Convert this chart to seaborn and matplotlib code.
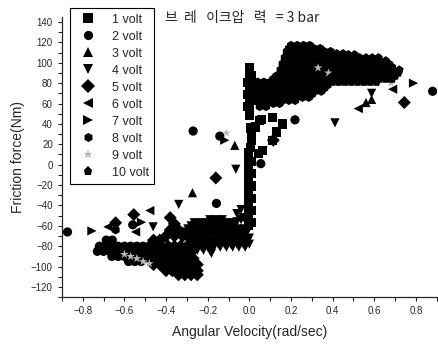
import pandas as pd
import matplotlib.pyplot as plt
import seaborn as sns

sns.set_style("ticks")
plt.rcParams['font.family'] = ['Liberation Sans', 'DejaVu Sans']

labels = ["1 volt", "2 volt", "3 volt", "4 volt", "5 volt",
          "6 volt", "7 volt", "8 volt", "9 volt", "10 volt"]
markers = ["s", "o", "^", "v", "D", "<", ">", "h", "*", "p"]
colors = ["black"] * 8 + ["#b8b8b8", "black"]

# (angular velocity [rad/s], friction force [Nm])
v1 = [(-0.005, -60), (-0.005, -54), (-0.005, -48), (-0.005, -42), (-0.005, -36), (-0.005, -30),
      (-0.005, -24), (-0.005, -18), (-0.005, -12), (-0.005, -6), (-0.005, 0), (-0.005, 6),
      (-0.005, 12), (0.008, -57), (0.008, -45), (0.008, -33), (0.008, -21), (0.008, -9),
      (0.008, 3), (0.006, 17), (0.01, 24), (0.012, 31), (0.007, 36), (0.03, 37), (0.05, 43),
      (0.06, 44), (0.11, 46), (0.16, 40), (0.13, 32), (0.11, 24), (0.045, 11), (0.063, 14),
      (0.0, 48), (0.0, 54), (0.0, 60), (0.0, 66), (0.0, 72), (0.0, 78), (0.0, 84), (0.0, 90),
      (0.0, 95), (-0.008, 57), (-0.008, 69), (-0.008, 81), (0.008, 63), (0.008, 75), (0.008, 87)]
v2 = [(-0.873, -66), (-0.687, -74), (-0.658, -74), (-0.56, -59), (-0.158, -38), (-0.27, 33),
      (-0.142, 28), (0.055, 1), (0.219, 44), (0.88, 72),
      (-0.72, -80), (-0.69, -80), (-0.66, -80), (-0.63, -80), (-0.60, -80), (-0.57, -80),
      (-0.54, -80), (-0.51, -80), (-0.73, -85), (-0.70, -85), (-0.67, -85), (-0.64, -85),
      (-0.61, -85), (-0.58, -85), (-0.55, -85), (-0.52, -85), (-0.66, -90), (-0.63, -90),
      (-0.60, -90), (-0.57, -90), (-0.54, -90), (-0.51, -90), (-0.58, -95), (-0.55, -95),
      (-0.52, -95)]
v3 = [(-0.07, 19), (-0.273, -27.5), (0.587, 64), (0.56, 61)]
v4 = [(-0.065, -4.5), (-0.339, -39), (-0.462, -61), (0.411, 41), (0.587, 70), (-0.182, -87),
      (-0.19, -54), (-0.16, -54), (-0.13, -54), (-0.04, -54),
      (-0.265, -57), (-0.235, -57), (-0.205, -57), (-0.175, -57), (-0.145, -57), (-0.115, -57),
      (-0.085, -57),
      (-0.28, -60), (-0.25, -60), (-0.22, -60), (-0.19, -60), (-0.16, -60), (-0.13, -60),
      (-0.10, -60), (-0.07, -60),
      (-0.295, -63), (-0.265, -63), (-0.235, -63), (-0.205, -63), (-0.175, -63), (-0.145, -63),
      (-0.115, -63), (-0.085, -63), (-0.055, -63), (-0.025, -63),
      (-0.31, -66), (-0.28, -66), (-0.25, -66), (-0.22, -66), (-0.19, -66), (-0.16, -66),
      (-0.13, -66), (-0.10, -66), (-0.07, -66), (-0.04, -66), (-0.01, -66),
      (-0.295, -69), (-0.265, -69), (-0.235, -69), (-0.205, -69), (-0.175, -69), (-0.145, -69),
      (-0.115, -69), (-0.085, -69), (-0.055, -69), (-0.025, -69),
      (-0.30, -72), (-0.27, -72), (-0.24, -72), (-0.21, -72), (-0.18, -72), (-0.15, -72),
      (-0.12, -72), (-0.09, -72), (-0.06, -72), (-0.03, -72), (0.00, -72),
      (-0.285, -75), (-0.255, -75), (-0.225, -75), (-0.195, -75), (-0.165, -75), (-0.135, -75),
      (-0.105, -75), (-0.075, -75), (-0.045, -75), (-0.015, -75),
      (-0.27, -78), (-0.24, -78), (-0.21, -78), (-0.18, -78), (-0.15, -78), (-0.12, -78),
      (-0.09, -78), (-0.06, -78), (-0.03, -78), (0.00, -78),
      (-0.26, -81), (-0.23, -81), (-0.20, -81), (-0.17, -81), (-0.14, -81), (-0.11, -81),
      (-0.08, -81), (-0.05, -81), (-0.02, -81),
      (-0.25, -84), (-0.22, -84), (-0.19, -84),
      (-0.06, -48), (-0.04, -44), (-0.03, -52), (-0.06, -56)]
v5 = [(-0.161, -13), (0.115, 24), (-0.555, -49), (-0.642, -57), (0.744, 61),
      (-0.38, -52), (-0.36, -58), (-0.38, -64), (-0.34, -64), (-0.36, -70), (-0.40, -70),
      (-0.32, -70), (-0.46, -74), (-0.43, -74),
      (-0.48, -80), (-0.45, -80), (-0.42, -80), (-0.39, -80), (-0.36, -80), (-0.33, -80),
      (-0.30, -80),
      (-0.49, -86), (-0.46, -86), (-0.43, -86), (-0.40, -86), (-0.37, -86), (-0.34, -86),
      (-0.31, -86), (-0.28, -86),
      (-0.48, -92), (-0.45, -92), (-0.42, -92), (-0.39, -92), (-0.36, -92), (-0.33, -92),
      (-0.30, -92), (-0.27, -92),
      (-0.46, -98), (-0.43, -98), (-0.40, -98), (-0.37, -98), (-0.34, -98), (-0.31, -98),
      (-0.28, -98), (-0.25, -98),
      (-0.40, -104), (-0.37, -104), (-0.34, -104), (-0.31, -104), (-0.28, -104), (-0.25, -104),
      (-0.34, -108), (-0.31, -108), (-0.28, -108), (-0.25, -108)]
v6 = [(-0.478, -45), (-0.679, -61), (-0.546, -66), (0.688, 74), (0.523, 55)]
v7 = [(-0.756, -65), (-0.518, -56.5), (0.788, 80), (-0.118, 24)]
v8 = [(-0.642, -64),
      (0.20, 117), (0.23, 117), (0.26, 117), (0.29, 117),
      (0.19, 114), (0.22, 114), (0.25, 114), (0.28, 114), (0.31, 114), (0.34, 114),
      (0.18, 111), (0.21, 111), (0.24, 111), (0.27, 111), (0.30, 111), (0.33, 111),
      (0.36, 111), (0.39, 111),
      (0.185, 108), (0.215, 108), (0.245, 108), (0.275, 108), (0.305, 108), (0.335, 108),
      (0.365, 108), (0.395, 108),
      (0.17, 105), (0.20, 105), (0.23, 105), (0.26, 105), (0.29, 105), (0.32, 105),
      (0.35, 105), (0.38, 105),
      (0.175, 102), (0.205, 102), (0.235, 102), (0.265, 102), (0.295, 102), (0.325, 102),
      (0.355, 102), (0.385, 102),
      (0.16, 99), (0.19, 99), (0.22, 99), (0.25, 99), (0.28, 99), (0.31, 99), (0.34, 99),
      (0.37, 99),
      (0.165, 96), (0.195, 96), (0.225, 96), (0.255, 96), (0.285, 96), (0.315, 96),
      (0.345, 96), (0.375, 96),
      (0.15, 93), (0.18, 93), (0.21, 93), (0.24, 93), (0.27, 93), (0.30, 93), (0.33, 93),
      (0.36, 93), (0.39, 93),
      (0.155, 90), (0.185, 90), (0.215, 90), (0.245, 90), (0.275, 90), (0.305, 90),
      (0.335, 90), (0.365, 90), (0.395, 90),
      (0.13, 87), (0.16, 87), (0.19, 87), (0.22, 87), (0.25, 87), (0.28, 87), (0.31, 87),
      (0.34, 87), (0.37, 87),
      (0.115, 84), (0.145, 84), (0.175, 84), (0.205, 84), (0.235, 84), (0.265, 84),
      (0.295, 84), (0.325, 84), (0.355, 84), (0.385, 84),
      (0.04, 81), (0.07, 81), (0.10, 81), (0.13, 81), (0.16, 81), (0.19, 81), (0.22, 81),
      (0.25, 81), (0.28, 81), (0.31, 81), (0.34, 81), (0.37, 81),
      (0.045, 78), (0.075, 78), (0.105, 78), (0.135, 78), (0.165, 78), (0.195, 78),
      (0.225, 78), (0.255, 78), (0.285, 78), (0.315, 78), (0.345, 78), (0.375, 78),
      (0.03, 75), (0.06, 75), (0.09, 75), (0.12, 75), (0.15, 75), (0.18, 75), (0.21, 75),
      (0.24, 75), (0.27, 75), (0.30, 75), (0.33, 75), (0.36, 75),
      (0.045, 72), (0.075, 72), (0.105, 72), (0.135, 72), (0.165, 72), (0.195, 72),
      (0.225, 72), (0.255, 72), (0.285, 72), (0.315, 72), (0.345, 72),
      (0.03, 69), (0.06, 69), (0.09, 69), (0.12, 69), (0.15, 69), (0.18, 69), (0.21, 69),
      (0.24, 69), (0.27, 69), (0.30, 69),
      (0.045, 66), (0.075, 66), (0.105, 66), (0.135, 66), (0.165, 66), (0.195, 66),
      (0.225, 66), (0.255, 66), (0.285, 66),
      (0.04, 63), (0.07, 63), (0.10, 63), (0.13, 63), (0.16, 63), (0.19, 63), (0.22, 63),
      (0.055, 60), (0.085, 60), (0.115, 60), (0.145, 60),
      (0.05, 57), (0.08, 57)]
v9 = [(-0.60, -88), (-0.57, -90), (-0.54, -92), (-0.51, -95), (-0.48, -97), (-0.11, 31),
      (0.45, 101), (0.50, 97), (0.55, 93), (0.60, 89), (0.64, 86), (0.68, 80), (0.33, 95),
      (0.38, 90)]
v10 = [(0.42, 109), (0.45, 109),
       (0.415, 108), (0.445, 108), (0.475, 108), (0.505, 108),
       (0.41, 105), (0.44, 105), (0.47, 105), (0.50, 105), (0.53, 105), (0.56, 105),
       (0.59, 105), (0.62, 105),
       (0.415, 102), (0.445, 102), (0.475, 102), (0.505, 102), (0.535, 102), (0.565, 102),
       (0.595, 102), (0.625, 102), (0.655, 102),
       (0.40, 99), (0.43, 99), (0.46, 99), (0.49, 99), (0.52, 99), (0.55, 99), (0.58, 99),
       (0.61, 99), (0.64, 99), (0.67, 99),
       (0.415, 96), (0.445, 96), (0.475, 96), (0.505, 96), (0.535, 96), (0.565, 96),
       (0.595, 96), (0.625, 96), (0.655, 96), (0.685, 96),
       (0.42, 93), (0.45, 93), (0.48, 93), (0.51, 93), (0.54, 93), (0.57, 93), (0.60, 93),
       (0.63, 93), (0.66, 93), (0.69, 93), (0.72, 93),
       (0.415, 90), (0.445, 90), (0.475, 90), (0.505, 90), (0.535, 90), (0.565, 90),
       (0.595, 90), (0.625, 90), (0.655, 90), (0.685, 90), (0.715, 90),
       (0.40, 87), (0.43, 87), (0.46, 87), (0.49, 87), (0.52, 87), (0.55, 87), (0.58, 87),
       (0.61, 87), (0.64, 87), (0.67, 87), (0.70, 87),
       (0.415, 84), (0.445, 84), (0.475, 84), (0.505, 84), (0.535, 84), (0.565, 84),
       (0.595, 84), (0.625, 84), (0.655, 84), (0.685, 84),
       (0.40, 81), (0.43, 81), (0.46, 81), (0.49, 81), (0.52, 81), (0.55, 81), (0.58, 81),
       (0.61, 81)]

series = [v1, v2, v3, v4, v5, v6, v7, v8, v9, v10]
rows = []
for lab, pts in zip(labels, series):
    for x, y in pts:
        rows.append((lab, x, y))
df = pd.DataFrame(rows, columns=["volt", "w", "f"])

fig = plt.figure(figsize=(4.39, 3.45), dpi=100)
ax = fig.add_axes([0.141, 0.1386, 0.854, 0.8125])

sns.scatterplot(data=df, x="w", y="f", hue="volt", style="volt", hue_order=labels,
                style_order=labels, palette=dict(zip(labels, colors)),
                markers=dict(zip(labels, markers)), s=44, linewidth=0, ax=ax)

ax.set_xlim(-0.9, 0.9)
ax.set_ylim(-130, 145)
ax.set_xticks([-0.8, -0.6, -0.4, -0.2, 0.0, 0.2, 0.4, 0.6, 0.8])
ax.set_xticks([-0.9, -0.7, -0.5, -0.3, -0.1, 0.1, 0.3, 0.5, 0.7, 0.9], minor=True)
ax.set_yticks(range(-120, 141, 20))
ax.set_yticks(range(-130, 141, 20), minor=True)
ax.tick_params(which="both", direction="out", length=3, width=0.8, labelsize=7)
sns.despine(ax=ax)
for sp in ["left", "bottom"]:
    ax.spines[sp].set_linewidth(0.9)

ax.set_xlabel("Angular Velocity(rad/sec)", fontsize=10, labelpad=6)
ax.set_ylabel("Friction force(Nm)", fontsize=10, labelpad=4)

handles, labs = ax.get_legend_handles_labels()
leg = ax.legend(handles, labs, loc="upper left", bbox_to_anchor=(0.159, 0.977),
                bbox_transform=fig.transFigure, borderaxespad=0, fontsize=9,
                labelspacing=0.4, handletextpad=0.9, borderpad=0.45,
                fancybox=False, framealpha=1, edgecolor="black")
leg.get_frame().set_linewidth(0.8)

fig.text(165 / 439, 1 - 18 / 345, "브  레   이크압   력   = 3 bar", fontsize=10,
         va="center", ha="left", family=["Noto Sans CJK KR", "DejaVu Sans"])

fig.savefig("out.png", dpi=100)
